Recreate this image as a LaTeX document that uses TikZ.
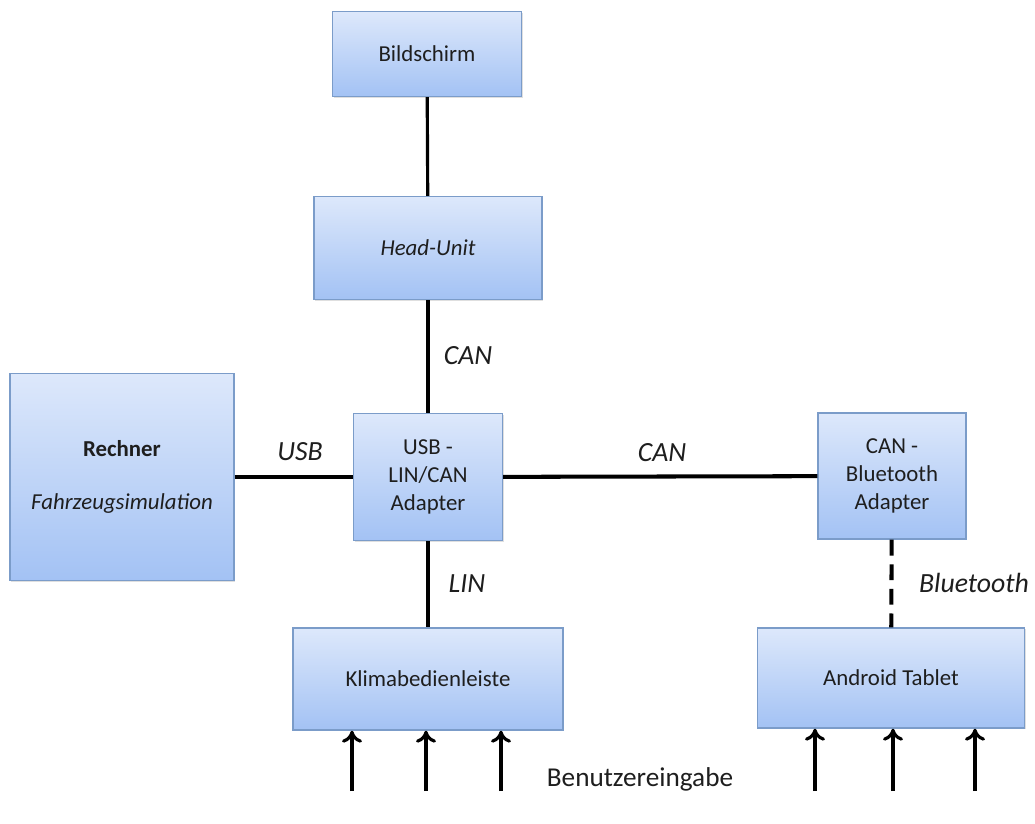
\documentclass[tikz,border=0pt]{standalone}
\usepackage{fontspec}
\setmainfont{Carlito}
\usetikzlibrary{arrows.meta,shadows}

\definecolor{boxtop}{HTML}{DDE8FB}
\definecolor{boxbot}{HTML}{A3C2F4}
\definecolor{boxline}{HTML}{7B9CC9}
\definecolor{textgray}{HTML}{1E1E1E}

\begin{document}
\begin{tikzpicture}[x=0.02cm, y=-0.02cm,
    block/.style={rectangle, draw=boxline, line width=0.8pt, top color=boxtop, bottom color=boxbot,
        text=textgray, align=center, inner sep=0pt, font=\fontsize{13}{16}\selectfont,
        drop shadow={opacity=0.25, shadow xshift=0.6pt, shadow yshift=-0.8pt}},
    bus/.style={line width=2.3pt, black},
    buslabel/.style={font=\fontsize{15.8}{18}\selectfont\itshape, text=textgray},
    userin/.style={line width=1.8pt, -{To[length=2.4mm,width=4mm]}}]

    % Frame of the picture
    \useasboundingbox (0,0) rectangle (1035,823);

    % Blocks
    \node[block, minimum width=3.78cm, minimum height=1.7cm] (bild) at (427,54) {Bildschirm};
    \node[block, minimum width=4.56cm, minimum height=2.06cm] (head) at (428,248) {\itshape Head-Unit};
    \node[block, minimum width=4.48cm, minimum height=4.14cm] (rechner) at (122,477)
        {\textbf{Rechner}\\[14pt]\itshape Fahrzeugsimulation};
    \node[block, minimum width=2.98cm, minimum height=2.54cm] (adapter) at (428,477) {USB -\\LIN/CAN\\Adapter};
    \node[block, minimum width=2.96cm, minimum height=2.52cm] (btadapter) at (892,476) {CAN -\\Bluetooth\\Adapter};
    \node[block, minimum width=5.4cm, minimum height=2.04cm] (klima) at (428,679) {Klimabedienleiste};
    \node[block, minimum width=5.34cm, minimum height=2.0cm] (tablet) at (891,678) {Android Tablet};

    % Connections
    \draw[line width=1.8pt] (bild) -- (head);
    \draw[bus] (head) -- (adapter);
    \draw[bus] (rechner) -- (adapter);
    \draw[bus] (adapter) -- (btadapter);
    \draw[bus] (adapter) -- (klima);
    \draw[line width=2.3pt, dash pattern=on 9pt off 5pt] (btadapter) -- (tablet);

    % Bus labels
    \node[buslabel] (lhead) at (468,356) {CAN};
    \node[buslabel] (lusb) at (300,452) {USB};
    \node[buslabel] (lcan) at (662,453) {CAN};
    \node[buslabel] (llin) at (467,584) {LIN};
    \node[buslabel] (lbt) at (974,583) {Bluetooth};

    % User inputs
    \foreach \x [count=\i] in {352,426,501} {
        \coordinate (ka\i) at (\x,791);
        \draw[userin] (ka\i) -- (ka\i |- klima.south);
    }
    \foreach \x [count=\i] in {815,893,975} {
        \coordinate (ta\i) at (\x,791);
        \draw[userin] (ta\i) -- (ta\i |- tablet.south);
    }
    \node[font=\fontsize{15.5}{18}\selectfont, text=textgray] (user) at (640,779) {Benutzereingabe};

\end{tikzpicture}
\end{document}
